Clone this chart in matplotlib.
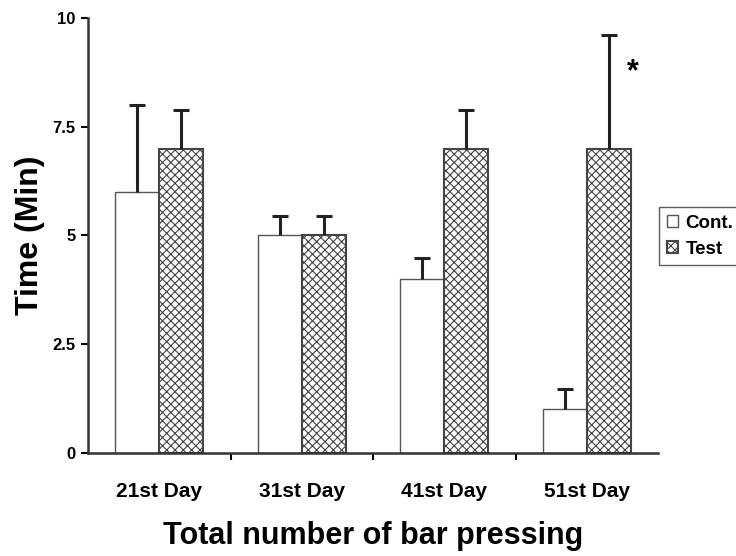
import numpy as np
import matplotlib.pyplot as plt

plt.rcParams['font.family'] = ['Liberation Sans', 'DejaVu Sans']
plt.rcParams['font.weight'] = 'bold'
plt.rcParams['hatch.color'] = '#555555'
plt.rcParams['hatch.linewidth'] = 0.8

days = ['21st Day', '31st Day', '41st Day', '51st Day']
cont = [6, 5, 4, 1]
cont_err = [2.0, 0.45, 0.48, 0.48]
test = [7, 5, 7, 7]
test_err = [0.88, 0.45, 0.88, 2.6]

x = np.arange(len(days))
w = 0.31

fig = plt.figure(figsize=(7.36, 5.56), dpi=100)
ax = fig.add_axes([0.1196, 0.1853, 0.7745, 0.7823])

ax.bar(x - w / 2, cont, w, color='white', edgecolor='#555555', linewidth=1.0, label='Cont.')
ax.bar(x + w / 2, test, w, color='white', edgecolor='#444444', linewidth=1.5,
       hatch='xxxx', label='Test')
for xs, ys, es in [(x - w / 2, cont, cont_err), (x + w / 2, test, test_err)]:
    eb = ax.errorbar(xs, ys, yerr=[np.zeros(4), es], fmt='none',
                     ecolor='#222222', elinewidth=2.2, capsize=6, capthick=2.2)
    # only the upper caps are shown
    eb[1][0].set_visible(False)

ax.text(3.32, 8.75, '*', fontsize=22, fontweight='bold', ha='center', va='center')

ax.set_xlim(-0.5, 3.5)
ax.set_ylim(0, 10)
ax.set_yticks([0, 2.5, 5, 7.5, 10])
ax.set_yticklabels(['0', '2.5', '5', '7.5', '10'])
ax.set_xticks([0.5, 1.5, 2.5])
ax.set_xticklabels([])
ax.set_xticks(x, minor=True)
ax.set_xticklabels(days, minor=True)
ax.tick_params(axis='x', which='minor', length=0, pad=21, labelsize=15)
ax.tick_params(axis='x', which='major', length=5, width=1.5, direction='out')
ax.tick_params(axis='y', length=5, width=1.5, direction='out', labelsize=12, pad=4)

for s in ['top', 'right']:
    ax.spines[s].set_visible(False)
for s in ['left', 'bottom']:
    ax.spines[s].set_linewidth(1.8)
    ax.spines[s].set_color('#333333')

ax.set_ylabel('Time (Min)', fontsize=23, fontweight='bold', labelpad=5)
ax.set_xlabel('Total number of bar pressing', fontsize=22, fontweight='bold', labelpad=14)

leg = fig.legend(loc='center left', bbox_to_anchor=(0.896, 0.575), fontsize=13.5,
                 frameon=True, fancybox=False, edgecolor='#333333',
                 handlelength=0.6, handleheight=0.6, handletextpad=0.4,
                 borderpad=0.4, labelspacing=0.5, borderaxespad=0)
leg.get_frame().set_linewidth(1.0)

fig.savefig('out.png', dpi=100)
